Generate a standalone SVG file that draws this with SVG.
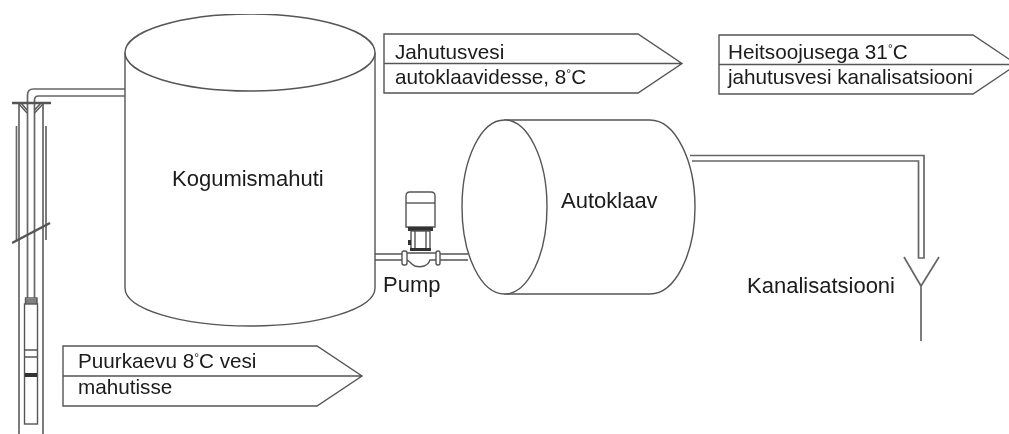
<svg xmlns="http://www.w3.org/2000/svg" width="1009" height="434" viewBox="0 0 1009 434">
<defs><filter id="soft" x="0" y="0" width="100%" height="100%"><feGaussianBlur stdDeviation="0.4"/></filter></defs>
<style>
.l{fill:none;stroke:#555;stroke-width:1.4}
.t{fill:none;stroke:#666;stroke-width:1.7}
.w{fill:#fff;stroke:#555;stroke-width:1.4}
.d{fill:#333;stroke:none}
text{font-family:"Liberation Sans",Arial,sans-serif;font-size:22px;fill:#1a1a1a}
.s{font-size:20.700px}
.deg{font-size:12px}
</style>
<rect width="1009" height="434" fill="#fff"/>
<g filter="url(#soft)">
<g id="connectors">
<path class="t" d="M27.500 298V95Q27.500 89 33.500 89H125"/>
<path class="t" d="M34.500 298V100Q34.500 96 38.500 96H125"/>
<path class="l" d="M375 254H402M375 260H402M440 254H468M440 260H468"/>
<path class="t" d="M690 155.500H924V258H918.500V161H692"/>
</g>
<g id="well">
<path class="t" d="M19 103V434M43 103V434M16.500 126V240M46 126V240"/>
<path d="M12 103H51" fill="none" stroke="#555" stroke-width="2.500"/>
<path class="l" d="M19 104L27 113M43 104L34.500 113M21 103L27 110M41 103L34.500 110"/>
<path d="M12 243L50 223" fill="none" stroke="#555" stroke-width="2.500"/>
<rect class="w" x="25.500" y="298" width="11.500" height="6"/>
<path class="l" d="M25.500 300H37M25.500 302H37"/>
<rect class="w" x="24.500" y="304" width="13" height="120"/>
<path class="l" d="M24.500 350H37.500M24.500 357H37.500"/>
<rect class="d" x="25" y="373" width="12" height="4"/>
</g>
<g id="tank">
<path class="w" d="M125 52.500V288C125 309 181 326 250 326S375 309 375 288V52.500"/>
<ellipse class="w" cx="250" cy="52.500" rx="125" ry="38.500"/>
<text x="172" y="186">Kogumismahuti</text>
</g>
<g id="pump">
<path class="w" d="M406 196Q406 192 410 192H431Q435 192 435 196V227H406Z"/>
<path class="l" d="M406 203H435"/>
<rect class="d" x="408" y="227" width="25" height="4"/>
<rect class="w" x="411" y="231" width="19" height="18"/>
<path class="l" d="M415 231V249M426 231V249"/>
<rect class="d" x="408" y="240" width="3" height="5"/>
<rect class="d" x="410" y="248" width="21" height="3"/>
<path class="w" d="M405 253H438V260H430C428 266 421 268 415 266 410 264 410 260 406 260H405Z"/>
<rect class="w" x="402" y="251" width="5" height="14" rx="2"/>
<rect class="w" x="436" y="251" width="4" height="14" rx="2"/>
<text x="383" y="292">Pump</text>
</g>
<g id="autoclave">
<path class="w" d="M505 120H650C675 120 695 160 695 207S675 294 650 294H505Z"/>
<ellipse class="w" cx="504.500" cy="207" rx="42.500" ry="87"/>
<text x="561" y="208">Autoklaav</text>
</g>
<g id="drain">
<path class="t" d="M904 257L921 286L939 257M921 286V341"/>
<text x="747" y="293">Kanalisatsiooni</text>
</g>
<g id="label-jahutusvesi">
<path class="l" d="M384 34H638L682 63.500L638 93H384ZM384 63.500H682"/>
<text class="s" x="395" y="59">Jahutusvesi</text>
<text class="s" x="395" y="84">autoklaavidesse, 8<tspan class="deg" dy="-6">°</tspan><tspan dy="6">C</tspan></text>
</g>
<g id="label-heitsoojus">
<path class="l" d="M719 35H973L1017 64.500L973 94H719ZM719 64.500H1009"/>
<text class="s" x="728" y="59">Heitsoojusega 31<tspan class="deg" dy="-6">°</tspan><tspan dy="6">C</tspan></text>
<text class="s" x="728" y="84">jahutusvesi kanalisatsiooni</text>
</g>
<g id="label-puurkaevu">
<path class="l" d="M63 346H317L362 376L317 406H63ZM63 376H362"/>
<text class="s" x="78" y="368">Puurkaevu 8<tspan class="deg" dy="-6">°</tspan><tspan dy="6">C vesi</tspan></text>
<text class="s" x="78" y="394">mahutisse</text>
</g>
</g>
</svg>
